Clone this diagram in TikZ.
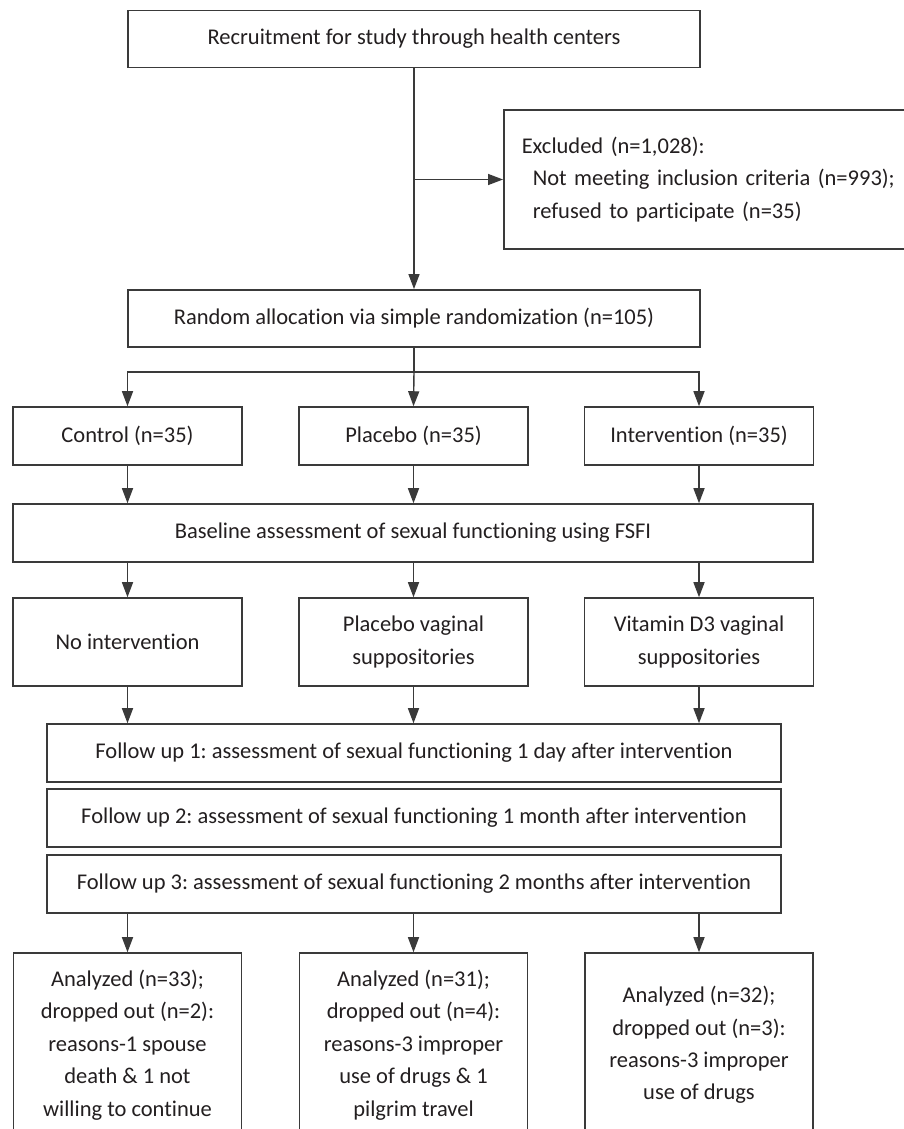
\documentclass[tikz,border=0pt]{standalone}
\usepackage{fontspec}
\setmainfont{Carlito}[Ligatures=NoCommon]
\usepackage{xcolor}
\usetikzlibrary{arrows.meta}
\definecolor{Ink}{HTML}{231F20}
\definecolor{Frame}{HTML}{3A3A3A}
\frenchspacing

\begin{document}
\begin{tikzpicture}[x=0.03cm,y=-0.03cm,font=\fontsize{19.2}{27.7}\selectfont,box/.style={draw=Frame,line width=1.3pt,text=Ink,align=center,inner sep=0pt},wide/.style={box,minimum width=17.16cm,minimum height=1.72cm},arm/.style={box,minimum width=6.87cm,minimum height=1.74cm},follow/.style={box,minimum width=22.02cm,minimum height=1.74cm},arr/.style={-{Triangle[width=0.33cm,length=0.45cm]},draw=Frame,line width=1.2pt}]
\useasboundingbox (0,0) rectangle (904,1129);
\clip (0,0) rectangle (904,1129);
\fill[white] (0,0) rectangle (904,1129);
% enrolment
\node[wide] (recruit) at (414,39) {Recruitment for study through health centers};
\node[box,anchor=west,align=left,text width=11.82cm,inner xsep=0.54cm,minimum height=4.17cm] (excl) at (503,179.5) {Excluded (n=1,028):\\\hspace*{0.33cm}Not meeting inclusion criteria (n=993);\\\hspace*{0.33cm}refused to participate (n=35)};
\node[wide] (random) at (414,318.5) {Random allocation via simple randomization (n=105)};
\coordinate (fork) at (414,372);
\coordinate (tap) at (recruit.south |- excl.west);
% allocation
\node[arm] (ctrl) at (127.5,436) {Control (n=35)};
\node[arm] (placebo) at (413.5,436) {Placebo (n=35)};
\node[arm] (interv) at (699,436) {Intervention (n=35)};
\node[box,minimum width=24cm,minimum height=1.74cm] (base) at (413,533) {Baseline assessment of sexual functioning using FSFI};
\node[arm,minimum height=2.64cm] (noint) at (127.5,642) {No intervention};
\node[arm,minimum height=2.64cm] (plavag) at (413.5,642) {Placebo vaginal\\suppositories};
\node[arm,minimum height=2.64cm] (vitd) at (699,642) {Vitamin D3 vaginal\\suppositories};
% follow up
\node[follow] (fu1) at (414,753) {Follow up 1: assessment of sexual functioning 1 day after intervention};
\node[follow] (fu2) at (414,818) {Follow up 2: assessment of sexual functioning 1 month after intervention};
\node[follow] (fu3) at (414,884) {Follow up 3: assessment of sexual functioning 2 months after intervention};
% analysis
\node[arm,minimum width=6.84cm,minimum height=5.52cm] (anaC) at (127.5,1045) {Analyzed (n=33);\\dropped out (n=2):\\reasons-1 spouse\\death \& 1 not\\willing to continue};
\node[arm,minimum width=6.84cm,minimum height=5.52cm] (anaP) at (413.5,1045) {Analyzed (n=31);\\dropped out (n=4):\\reasons-3 improper\\use of drugs \& 1\\pilgrim travel};
\node[arm,minimum width=6.84cm,minimum height=5.52cm] (anaI) at (699,1045) {Analyzed (n=32);\\dropped out (n=3):\\reasons-3 improper\\use of drugs};
% connectors
\draw[arr] (recruit.south) -- (random.north);
\draw[arr] (tap) -- (excl.west);
\draw[draw=Frame,line width=1.2pt] (random.south) -- (fork);
\draw[arr] (fork) -| (ctrl.north);
\draw[arr] (fork) -- (placebo.north);
\draw[arr] (fork) -| (interv.north);
\foreach \c in {ctrl,placebo,interv} {\draw[arr] (\c.south) -- (\c.south |- base.north);}
\foreach \c in {noint,plavag,vitd} {\draw[arr] (base.south -| \c) -- (\c.north); \draw[arr] (\c.south) -- (\c.south |- fu1.north);}
\foreach \c in {anaC,anaP,anaI} {\draw[arr] (fu3.south -| \c) -- (\c.north);}
\end{tikzpicture}
\end{document}
